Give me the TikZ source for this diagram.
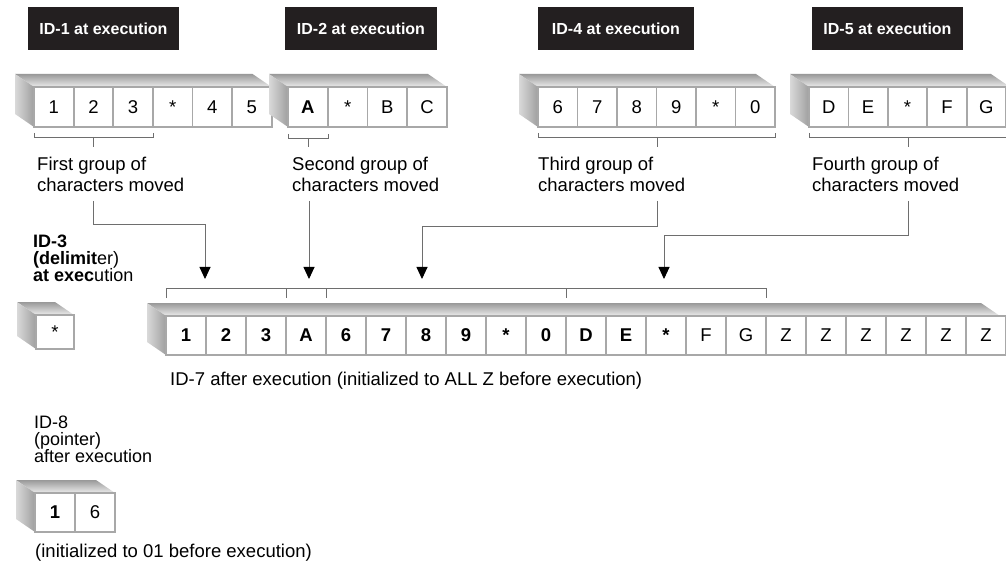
\documentclass[tikz,border=0pt]{standalone}
\usepackage{fontspec}
\setmainfont{Liberation Sans}
\usetikzlibrary{arrows.meta}
\definecolor{titlebg}{HTML}{231F20}
\definecolor{linegray}{HTML}{6E6E6E}
\definecolor{cellgray}{HTML}{A8A8A8}
% oblique 3D slab: front face (#1,#2)-(#3,#4), depth offset (-19,-13)
\newcommand\slab[4]{%
  \shade[top color=gray!80, bottom color=gray!15] (#1,#2) -- ++(-19,-13) -- (#3-19,#2-13) -- (#3,#2) -- cycle;
  \shade[left color=gray!30, right color=gray!75] (#1,#2) -- ++(-19,-13) -- (#1-19,#4-13) -- (#1,#4) -- cycle;
}
\begin{document}
\begin{tikzpicture}[x=1pt,y=-1pt,
  title/.style={fill=titlebg, text=white, font=\fontsize{16}{18}\selectfont\bfseries,
    minimum height=43pt, inner sep=0pt},
  cell/.style={draw=cellgray, line width=1.8pt, fill=white, minimum width=40pt,
    minimum height=40pt, inner sep=0pt, font=\fontsize{18.5}{20}\selectfont},
  lbl/.style={inner sep=0pt, align=left, font=\fontsize{18.5}{21}\selectfont},
  brk/.style={draw=linegray, line width=0.8pt},
  arr/.style={draw=linegray, line width=0.9pt, -{Triangle[width=11pt,length=12pt,color=black]}}]
\useasboundingbox (0,0) rectangle (1006,569);
\clip (0,0) rectangle (1006,569);

% titles
\node[title, minimum width=151pt] (t1) at (103.5,28.5) {ID-1 at execution};
\node[title, minimum width=152pt] (t2) at (361,28.5) {ID-2 at execution};
\node[title, minimum width=156pt] (t4) at (616,28.5) {ID-4 at execution};
\node[title, minimum width=151pt] (t5) at (887.5,28.5) {ID-5 at execution};

% ID-1
\slab{34}{87}{271.6}{127}
\foreach \t [count=\i from 0] in {1,2,3,*,4,5}
  \node[cell, minimum width=39.6pt] (a\i) at (34+19.8+39.6*\i,107) {\t};
% ID-2
\slab{288}{87}{447}{127}
\foreach \t [count=\i from 0] in {\textbf{A},*,B,C}
  \node[cell, minimum width=39.75pt] (b\i) at (288+19.875+39.75*\i,107) {\t};
% ID-4
\slab{538}{87}{775}{127}
\foreach \t [count=\i from 0] in {6,7,8,9,*,0}
  \node[cell, minimum width=39.5pt] (c\i) at (538+19.75+39.5*\i,107) {\t};
% ID-5
\slab{809}{87}{1010}{127}
\foreach \t [count=\i from 0] in {D,E,*,F,G}
  \node[cell, minimum width=39.4pt] (d\i) at (809+19.7+39.4*\i,107) {\t};

% brackets under source fields
\draw[brk] (34,133) -- (34,137) -- (153,137) -- (153,133);
\draw[brk] (288,134) -- (288,138) -- (328,138) -- (328,134);
\draw[brk] (538,133) -- (538,137) -- (775,137) -- (775,133);
\draw[brk] (809,133) -- (809,137) -- (1010,137);
\coordinate (k1) at (93,137); \coordinate (k2) at (308,138);
\coordinate (k3) at (657,137); \coordinate (k4) at (908,137);
\draw[brk] (k1) -- ++(0,10);
\draw[brk] (k2) -- ++(0,9);
\draw[brk] (k3) -- ++(0,10);
\draw[brk] (k4) -- ++(0,10);

% group labels
\node[lbl, anchor=north west] (l1) at (37,157) {First group of\\characters moved};
\node[lbl, anchor=north west] (l2) at (292,157) {Second group of\\characters moved};
\node[lbl, anchor=north west] (l3) at (538,157) {Third group of\\characters moved};
\node[lbl, anchor=north west] (l4) at (812,157) {Fourth group of\\characters moved};

% arrows
\coordinate (s1) at (93,201);  \coordinate (e1) at (205,279);
\coordinate (s2) at (309,201); \coordinate (e2) at (309,279);
\coordinate (s3) at (657,201); \coordinate (e3) at (422,279);
\coordinate (s4) at (908,201); \coordinate (e4) at (664,279);
\draw[arr] (s1) -- ++(0,23) -| (e1);
\draw[arr] (s2) -- (e2);
\draw[arr] (s3) -- ++(0,25) -| (e3);
\draw[arr] (s4) -- ++(0,34) -| (e4);

% ID-3
\node[lbl, anchor=north west, font=\fontsize{18}{16.8}\selectfont] (id3) at (33,235)
  {\textbf{ID-3}\\\textbf{(delimit}er)\\\textbf{at exec}ution};
\slab{36}{315}{74}{349}
\node[cell, minimum width=38pt, minimum height=34pt] (dl) at (55,332) {*};

% ID-7 bracket
\draw[brk] (166,298) -- (166,288) -- (766,288) -- (766,298);
\draw[brk] (286,288) -- (286,298);
\draw[brk] (326,288) -- (326,298);
\draw[brk] (566,288) -- (566,298);

% ID-7
\slab{166}{316}{1000}{355}
\foreach \t [count=\i from 0] in {\textbf{1},\textbf{2},\textbf{3},\textbf{A},\textbf{6},\textbf{7},\textbf{8},\textbf{9},\textbf{*},\textbf{0},\textbf{D},\textbf{E},\textbf{*},F,G,Z,Z,Z,Z,Z,Z}
  \node[cell, minimum height=39pt] (r\i) at (186+40*\i,335.5) {\t};
\node[lbl, anchor=base west] (l7) at (170,385) {ID-7 after execution (initialized to ALL Z before execution)};

% ID-8
\node[lbl, anchor=north west, font=\fontsize{18}{17}\selectfont] (id8) at (34,416)
  {ID-8\\(pointer)\\after execution};
\slab{35}{493}{115}{532}
\node[cell, minimum height=39pt] (p0) at (55,512.5) {\textbf{1}};
\node[cell, minimum height=39pt] (p1) at (95,512.5) {6};
\node[lbl, anchor=base west] (l8) at (35,557) {(initialized to 01 before execution)};
\end{tikzpicture}
\end{document}
